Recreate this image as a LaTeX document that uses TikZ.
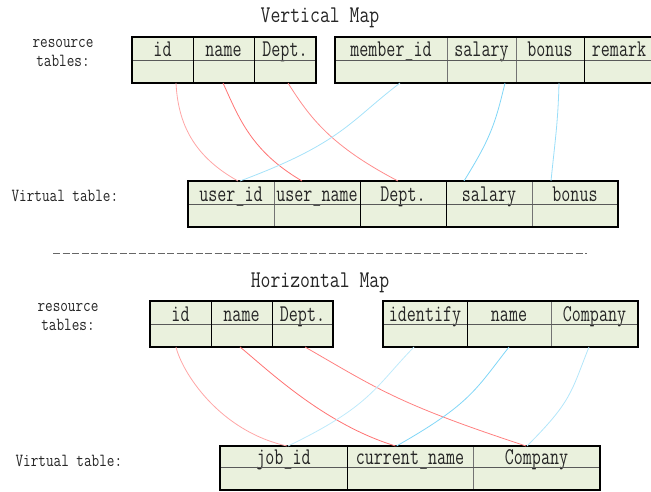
\documentclass[tikz,border=0pt]{standalone}
\usepackage{fontspec}
\newfontfamily\narrowtt{Latin Modern Mono}[FakeStretch=0.8]
\newfontfamily\celltt{Latin Modern Mono}[FakeStretch=0.73]
\usetikzlibrary{positioning}

\definecolor{cellgreen}{HTML}{EAF1DD}

\begin{document}
\begin{tikzpicture}[x=1pt, y=-1pt, node distance=0pt]

  \tikzstyle{column}=[draw=black!55, line width=0.6pt, fill=cellgreen, inner sep=0pt, outer sep=0pt,
    anchor=north west, minimum height=46pt, text height=20pt, text depth=26pt,
    text=black!85, font=\celltt\fontsize{24}{26}\selectfont]
  \tikzstyle{tableframe}=[line width=1.6pt]
  \tikzstyle{rowline}=[draw=black!65, line width=0.7pt]
  \tikzstyle{colsep}=[line width=0.9pt]
  \tikzstyle{side}=[text=black!85, font=\narrowtt\fontsize{18.5}{19.4}\selectfont, align=center]
  \tikzstyle{heading}=[anchor=base, text=black!85, font=\narrowtt\fontsize{24}{26}\selectfont]
  \tikzstyle{map}=[line width=0.8pt]

  \useasboundingbox (0,0) rectangle (651,492);

  % vertical map
  \node[heading] (vmap) at (320,23) {Vertical Map};
  \node[side] (res-top) at (63,53) {resource\\tables:};
  \node[side, anchor=base west] (virt-top) at (8,201) {Virtual table:};

  \node[column, minimum width=61pt] (r1-id) at (132,37) {id};
  \node[column, minimum width=61pt, right=of r1-id] (r1-name) {name};
  \node[column, minimum width=62pt, right=of r1-name] (r1-dept) {Dept.};

  \node[column, minimum width=112pt] (r2-mid) at (335,37) {member\_id};
  \node[column, minimum width=69pt, right=of r2-mid] (r2-salary) {salary};
  \node[column, minimum width=68pt, right=of r2-salary] (r2-bonus) {bonus};
  \node[column, minimum width=70pt, right=of r2-bonus] (r2-remark) {remark};

  \node[column, minimum width=86pt] (v1-uid) at (188,181) {user\_id};
  \node[column, minimum width=86pt, right=of v1-uid] (v1-uname) {user\_name};
  \node[column, minimum width=86pt, right=of v1-uname] (v1-dept) {Dept.};
  \node[column, minimum width=86pt, right=of v1-dept] (v1-salary) {salary};
  \node[column, minimum width=86pt, right=of v1-salary] (v1-bonus) {bonus};

  \draw[rowline] (r1-id.west) -- (r1-dept.east);
  \draw[rowline] (r2-mid.west) -- (r2-remark.east);
  \draw[rowline] (v1-uid.west) -- (v1-bonus.east);
  \draw[colsep] (r1-id.north east) -- (r1-id.south east);
  \draw[colsep] (r1-name.north east) -- (r1-name.south east);
  \draw[colsep] (r2-bonus.north east) -- (r2-bonus.south east);
  \draw[colsep] (v1-uname.north east) -- (v1-uname.south east);
  \draw[colsep] (v1-dept.north east) -- (v1-dept.south east);
  \draw[tableframe] (r1-id.north west) rectangle (r1-dept.south east);
  \draw[tableframe] (r2-mid.north west) rectangle (r2-remark.south east);
  \draw[tableframe] (v1-uid.north west) rectangle (v1-bonus.south east);

  \draw[map, red!35] ([xshift=13.5pt]r1-id.south) .. controls +(2,40) and +(-45,-25) .. ([xshift=7pt]v1-uid.north);
  \draw[map, red!55] ([xshift=-0.5pt]r1-name.south) .. controls +(16,35) and +(-51,-30) .. ([xshift=-15pt]v1-uname.north);
  \draw[map, red!45] ([xshift=3pt]r1-dept.south) .. controls +(22,35) and +(-67,-35) .. ([xshift=-5pt]v1-dept.north);
  \draw[map, cyan!35] ([xshift=9pt]r2-mid.south) .. controls +(-50,38) and +(102,-38) .. ([xshift=9pt]v1-uid.north);
  \draw[map, cyan!50] ([xshift=23.5pt]r2-salary.south) .. controls +(-10,42) and +(26,-42) .. ([xshift=-25pt]v1-salary.north);
  \draw[map, cyan!40] ([xshift=9pt]r2-bonus.south) .. controls +(-1,40) and +(4,-40) .. ([xshift=-24pt]v1-bonus.north);

  \draw[black!60, line width=0.8pt, dash pattern=on 7pt off 2.5pt] (53,253.5) -- (587,253.5);

  % horizontal map
  \node[heading] (hmap) at (320,287) {Horizontal Map};
  \node[side] (res-bot) at (68,317) {resource\\tables:};
  \node[side, anchor=base west] (virt-bot) at (12,466) {Virtual table:};

  \node[column, minimum width=61pt] (r3-id) at (150,301) {id};
  \node[column, minimum width=61pt, right=of r3-id] (r3-name) {name};
  \node[column, minimum width=61pt, right=of r3-name] (r3-dept) {Dept.};

  \node[column, minimum width=84pt] (r4-ident) at (383,301) {identify};
  \node[column, minimum width=84pt, right=of r4-ident] (r4-name) {name};
  \node[column, minimum width=87pt, right=of r4-name] (r4-comp) {Company};

  \node[column, minimum width=127pt, minimum height=44pt, text height=18pt, text depth=26pt] (v2-job) at (220,446) {job\_id};
  \node[column, minimum width=126pt, minimum height=44pt, text height=18pt, text depth=26pt, right=of v2-job] (v2-cur) {current\_name};
  \node[column, minimum width=127pt, minimum height=44pt, text height=18pt, text depth=26pt, right=of v2-cur] (v2-comp) {Company};

  \draw[rowline] (r3-id.west) -- (r3-dept.east);
  \draw[rowline] (r4-ident.west) -- (r4-comp.east);
  \draw[rowline] ([yshift=1pt]v2-job.west) -- ([yshift=1pt]v2-comp.east);
  \draw[colsep] (r3-id.north east) -- (r3-id.south east);
  \draw[colsep] (r3-name.north east) -- (r3-name.south east);
  \draw[colsep] (r4-ident.north east) -- (r4-ident.south east);
  \draw[colsep] (v2-job.north east) -- (v2-job.south east);
  \draw[tableframe] (r3-id.north west) rectangle (r3-dept.south east);
  \draw[tableframe] (r4-ident.north west) rectangle (r4-comp.south east);
  \draw[tableframe] (v2-job.north west) rectangle (v2-comp.south east);

  \draw[map, red!35] ([xshift=-4.5pt]r3-id.south) .. controls +(6,25) and +(-68,-15) .. ([xshift=3.5pt]v2-job.north);
  \draw[map, red!55] ([xshift=-1.5pt]r3-name.south) .. controls +(27,22) and +(-72,-22) .. ([xshift=-14.5pt]v2-cur.north);
  \draw[map, red!50] ([xshift=2.5pt]r3-dept.south) .. controls +(73,42) and +(-128,-42) .. ([xshift=-10.5pt]v2-comp.north);
  \draw[map, cyan!25] ([xshift=-11pt]r4-ident.south) .. controls +(-39,40) and +(83,-40) .. ([xshift=4.5pt]v2-job.north);
  \draw[map, cyan!50] ([xshift=0pt]r4-name.south) .. controls +(-33,42) and +(74,-42) .. ([xshift=-13.5pt]v2-cur.north);
  \draw[map, cyan!30] ([xshift=-5.5pt]r4-comp.south) .. controls +(-18,45) and +(45,-45) .. ([xshift=-9.5pt]v2-comp.north);

\end{tikzpicture}
\end{document}
